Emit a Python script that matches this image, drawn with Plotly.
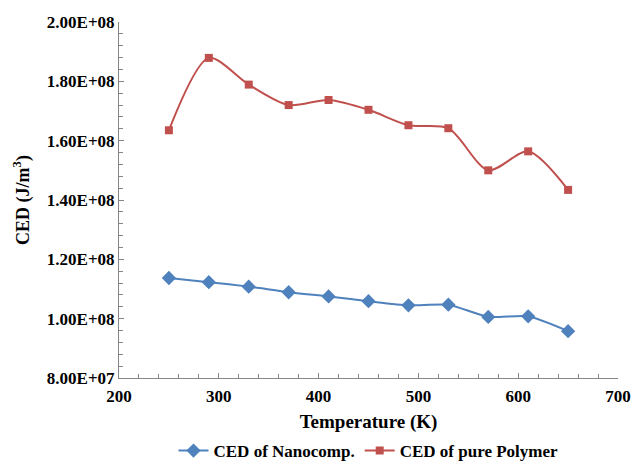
import plotly.graph_objects as go

temperature = [250, 290, 330, 370, 410, 450, 490, 530, 570, 610, 650]
ced_nanocomp = [1.137e8, 1.123e8, 1.108e8, 1.089e8, 1.075e8, 1.059e8, 1.045e8, 1.047e8, 1.006e8, 1.008e8, 0.958e8]
ced_polymer = [1.635e8, 1.879e8, 1.789e8, 1.720e8, 1.737e8, 1.704e8, 1.652e8, 1.642e8, 1.500e8, 1.564e8, 1.434e8]

y_tickvals = [8.0e7, 1.0e8, 1.2e8, 1.4e8, 1.6e8, 1.8e8, 2.0e8]
y_ticktext = ["8.00E+07", "1.00E+08", "1.20E+08", "1.40E+08", "1.60E+08", "1.80E+08", "2.00E+08"]
x_tickvals = [200, 300, 400, 500, 600, 700]

FONT = "Liberation Serif"

fig = go.Figure()
fig.add_trace(go.Scatter(
    x=temperature, y=ced_nanocomp, name="CED of Nanocomp.",
    mode="lines+markers",
    line=dict(color="#4F81BD", width=2, shape="spline", smoothing=0.6),
    marker=dict(symbol="diamond", size=11, color="#4F81BD"),
))
fig.add_trace(go.Scatter(
    x=temperature, y=ced_polymer, name="CED of pure Polymer",
    mode="lines+markers",
    line=dict(color="#C0504D", width=2, shape="spline", smoothing=0.8),
    marker=dict(symbol="square", size=8, color="#C0504D"),
))

fig.update_layout(
    width=632, height=465,
    margin=dict(l=119, r=14, t=22, b=87, autoexpand=False),
    paper_bgcolor="white", plot_bgcolor="white",
    font=dict(family=FONT, size=16, color="black"),
    showlegend=True,
    legend=dict(orientation="h", x=0.5, xanchor="center", y=-0.205, yanchor="middle",
                font=dict(family=FONT, size=17, color="black", weight="bold"),
                itemwidth=30, tracegroupgap=0),
)
fig.update_xaxes(
    range=[200, 700], tickvals=x_tickvals,
    showline=True, linecolor="#868686", linewidth=1,
    ticks="inside", ticklen=5, tickcolor="#868686",
    minor=dict(dtick=20, ticks="inside", ticklen=4, tickcolor="#868686", showgrid=False),
    showgrid=False, zeroline=False, automargin=False,
    tickfont=dict(family=FONT, size=17, weight="bold"),
    ticklabelstandoff=3,
    title=dict(text="Temperature (K)", font=dict(family=FONT, size=19, weight="bold"), standoff=9),
)
fig.update_yaxes(
    range=[8.0e7, 2.0e8], tickvals=y_tickvals, ticktext=y_ticktext,
    showline=True, linecolor="#868686", linewidth=1,
    ticks="inside", ticklen=5, tickcolor="#868686",
    minor=dict(dtick=4e6, ticks="inside", ticklen=4, tickcolor="#868686", showgrid=False),
    showgrid=False, zeroline=False, automargin=False,
    tickfont=dict(family=FONT, size=17, weight="bold"),
    title=dict(text="CED (J/m<sup>3</sup>)", font=dict(family=FONT, size=18, weight="bold"), standoff=12),
)

fig.write_html("out.html")
